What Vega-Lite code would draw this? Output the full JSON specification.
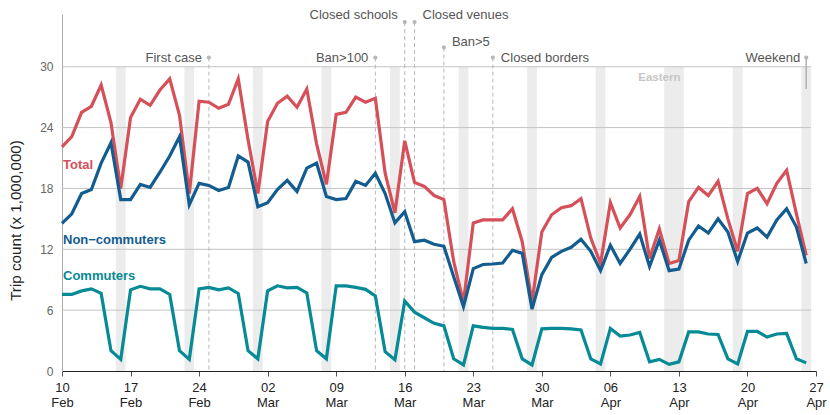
{
  "$schema": "https://vega.github.io/schema/vega-lite/v6.json",
  "autosize": "none",
  "width": 754,
  "height": 357,
  "padding": {"left": 62, "top": 14, "right": 14, "bottom": 44},
  "background": "white",
  "config": {"view": {"stroke": null}, "font": "Liberation Sans"},
  "datasets": {
    "trips": [
      {"date":"2020-02-10","total":22.1,"non":14.55,"com":7.55},
      {"date":"2020-02-11","total":23.1,"non":15.5,"com":7.55},
      {"date":"2020-02-12","total":25.5,"non":17.5,"com":7.9},
      {"date":"2020-02-13","total":26.1,"non":17.9,"com":8.1},
      {"date":"2020-02-14","total":28.2,"non":20.5,"com":7.65},
      {"date":"2020-02-15","total":24.5,"non":22.5,"com":2.0},
      {"date":"2020-02-16","total":18.0,"non":16.9,"com":1.15},
      {"date":"2020-02-17","total":25.0,"non":16.9,"com":8.0},
      {"date":"2020-02-18","total":26.8,"non":18.4,"com":8.35},
      {"date":"2020-02-19","total":26.2,"non":18.1,"com":8.1},
      {"date":"2020-02-20","total":27.7,"non":19.6,"com":8.1},
      {"date":"2020-02-21","total":28.8,"non":21.2,"com":7.55},
      {"date":"2020-02-22","total":25.2,"non":23.1,"com":2.0},
      {"date":"2020-02-23","total":17.5,"non":16.4,"com":1.15},
      {"date":"2020-02-24","total":26.6,"non":18.5,"com":8.1},
      {"date":"2020-02-25","total":26.5,"non":18.3,"com":8.25},
      {"date":"2020-02-26","total":25.9,"non":17.8,"com":8.0},
      {"date":"2020-02-27","total":26.3,"non":18.1,"com":8.2},
      {"date":"2020-02-28","total":28.8,"non":21.2,"com":7.65},
      {"date":"2020-02-29","total":22.8,"non":20.6,"com":2.0},
      {"date":"2020-03-01","total":17.5,"non":16.2,"com":1.2},
      {"date":"2020-03-02","total":24.6,"non":16.6,"com":7.9},
      {"date":"2020-03-03","total":26.4,"non":17.9,"com":8.4},
      {"date":"2020-03-04","total":27.1,"non":18.8,"com":8.2},
      {"date":"2020-03-05","total":26.0,"non":17.7,"com":8.25},
      {"date":"2020-03-06","total":27.8,"non":20.0,"com":7.7},
      {"date":"2020-03-07","total":22.4,"non":20.5,"com":2.0},
      {"date":"2020-03-08","total":18.4,"non":17.2,"com":1.2},
      {"date":"2020-03-09","total":25.3,"non":16.9,"com":8.4},
      {"date":"2020-03-10","total":25.5,"non":17.0,"com":8.4},
      {"date":"2020-03-11","total":27.0,"non":18.7,"com":8.25},
      {"date":"2020-03-12","total":26.5,"non":18.3,"com":8.05},
      {"date":"2020-03-13","total":26.9,"non":19.5,"com":7.4},
      {"date":"2020-03-14","total":19.5,"non":17.5,"com":1.9},
      {"date":"2020-03-15","total":15.6,"non":14.6,"com":1.1},
      {"date":"2020-03-16","total":22.7,"non":15.7,"com":6.9},
      {"date":"2020-03-17","total":18.6,"non":12.75,"com":5.8},
      {"date":"2020-03-18","total":18.2,"non":12.9,"com":5.25},
      {"date":"2020-03-19","total":17.3,"non":12.5,"com":4.7},
      {"date":"2020-03-20","total":16.9,"non":12.3,"com":4.45},
      {"date":"2020-03-21","total":10.8,"non":9.3,"com":1.2},
      {"date":"2020-03-22","total":6.8,"non":6.35,"com":0.6},
      {"date":"2020-03-23","total":14.6,"non":10.1,"com":4.45},
      {"date":"2020-03-24","total":14.9,"non":10.5,"com":4.3},
      {"date":"2020-03-25","total":14.9,"non":10.55,"com":4.2},
      {"date":"2020-03-26","total":14.9,"non":10.65,"com":4.2},
      {"date":"2020-03-27","total":16.0,"non":11.9,"com":4.1},
      {"date":"2020-03-28","total":12.75,"non":11.6,"com":1.2},
      {"date":"2020-03-29","total":6.8,"non":6.1,"com":0.6},
      {"date":"2020-03-30","total":13.7,"non":9.5,"com":4.15},
      {"date":"2020-03-31","total":15.4,"non":11.2,"com":4.2},
      {"date":"2020-04-01","total":16.1,"non":11.8,"com":4.2},
      {"date":"2020-04-02","total":16.3,"non":12.2,"com":4.15},
      {"date":"2020-04-03","total":17.0,"non":13.0,"com":4.05},
      {"date":"2020-04-04","total":13.1,"non":11.8,"com":1.2},
      {"date":"2020-04-05","total":10.6,"non":9.9,"com":0.7},
      {"date":"2020-04-06","total":16.6,"non":12.4,"com":4.2},
      {"date":"2020-04-07","total":14.1,"non":10.6,"com":3.45},
      {"date":"2020-04-08","total":15.4,"non":12.0,"com":3.55},
      {"date":"2020-04-09","total":17.2,"non":13.5,"com":3.8},
      {"date":"2020-04-10","total":11.1,"non":10.3,"com":0.9},
      {"date":"2020-04-11","total":14.0,"non":12.9,"com":1.15},
      {"date":"2020-04-12","total":10.6,"non":9.9,"com":0.65},
      {"date":"2020-04-13","total":10.9,"non":10.05,"com":0.9},
      {"date":"2020-04-14","total":16.7,"non":12.9,"com":3.85},
      {"date":"2020-04-15","total":18.1,"non":14.3,"com":3.85},
      {"date":"2020-04-16","total":17.3,"non":13.6,"com":3.65},
      {"date":"2020-04-17","total":18.7,"non":15.0,"com":3.6},
      {"date":"2020-04-18","total":15.0,"non":13.7,"com":1.2},
      {"date":"2020-04-19","total":11.8,"non":10.8,"com":0.7},
      {"date":"2020-04-20","total":17.5,"non":13.6,"com":3.9},
      {"date":"2020-04-21","total":18.0,"non":14.1,"com":3.9},
      {"date":"2020-04-22","total":16.5,"non":13.2,"com":3.35},
      {"date":"2020-04-23","total":18.5,"non":14.9,"com":3.65},
      {"date":"2020-04-24","total":19.8,"non":16.0,"com":3.7},
      {"date":"2020-04-25","total":15.5,"non":14.2,"com":1.2},
      {"date":"2020-04-26","total":11.4,"non":10.6,"com":0.8}
    ],
    "weekends": [
      {"start":"2020-02-15T12:00:00Z","end":"2020-02-16T12:00:00Z"},
      {"start":"2020-02-22T12:00:00Z","end":"2020-02-23T12:00:00Z"},
      {"start":"2020-02-29T12:00:00Z","end":"2020-03-01T12:00:00Z"},
      {"start":"2020-03-07T12:00:00Z","end":"2020-03-08T12:00:00Z"},
      {"start":"2020-03-14T12:00:00Z","end":"2020-03-15T12:00:00Z"},
      {"start":"2020-03-21T12:00:00Z","end":"2020-03-22T12:00:00Z"},
      {"start":"2020-03-28T12:00:00Z","end":"2020-03-29T12:00:00Z"},
      {"start":"2020-04-04T12:00:00Z","end":"2020-04-05T12:00:00Z"},
      {"start":"2020-04-11T12:00:00Z","end":"2020-04-13T12:00:00Z"},
      {"start":"2020-04-18T12:00:00Z","end":"2020-04-19T12:00:00Z"},
      {"start":"2020-04-25T12:00:00Z","end":"2020-04-26T12:00:00Z"}
    ],
    "events": [
      {"date":"2020-02-25","label":"First case","top":30.9,"labelAt":30.9,"side":"right"},
      {"date":"2020-03-13","label":"Ban>100","top":30.9,"labelAt":30.9,"side":"right"},
      {"date":"2020-03-16","label":"Closed schools","top":34.4,"labelAt":35.1,"side":"right"},
      {"date":"2020-03-17","label":"Closed venues","top":34.4,"labelAt":35.1,"side":"left"},
      {"date":"2020-03-20","label":"Ban>5","top":31.9,"labelAt":32.4,"side":"left"},
      {"date":"2020-03-25","label":"Closed borders","top":30.9,"labelAt":30.9,"side":"left"}
    ],
    "gridlines": [
      {"value":6,"start":"2020-02-10","end":"2020-04-26T12:00:00Z"},
      {"value":12,"start":"2020-02-10","end":"2020-04-26T12:00:00Z"},
      {"value":18,"start":"2020-02-10","end":"2020-04-26T12:00:00Z"},
      {"value":24,"start":"2020-02-10","end":"2020-04-26T12:00:00Z"},
      {"value":30,"start":"2020-02-10","end":"2020-04-26T12:00:00Z"}
    ],
    "labels": [
      {"date":"2020-02-10","value":20.35,"label":"Total"},
      {"date":"2020-02-10","value":12.9,"label":"Non−commuters"},
      {"date":"2020-02-10","value":9.4,"label":"Commuters"}
    ]
  },
  "encoding": {
    "x": {
      "field": "date",
      "type": "temporal",
      "title": null,
      "scale": {
        "type": "utc",
        "domain": [
          {"year":2020,"month":"feb","date":10,"utc":true},
          {"year":2020,"month":"apr","date":27,"utc":true}
        ]
      },
      "axis": {
        "values": [
          {"year":2020,"month":"feb","date":10,"utc":true},
          {"year":2020,"month":"feb","date":17,"utc":true},
          {"year":2020,"month":"feb","date":24,"utc":true},
          {"year":2020,"month":"mar","date":2,"utc":true},
          {"year":2020,"month":"mar","date":9,"utc":true},
          {"year":2020,"month":"mar","date":16,"utc":true},
          {"year":2020,"month":"mar","date":23,"utc":true},
          {"year":2020,"month":"mar","date":30,"utc":true},
          {"year":2020,"month":"apr","date":6,"utc":true},
          {"year":2020,"month":"apr","date":13,"utc":true},
          {"year":2020,"month":"apr","date":20,"utc":true},
          {"year":2020,"month":"apr","date":27,"utc":true}
        ],
        "labelExpr": "[utcFormat(datum.value, '%d'), utcFormat(datum.value, '%b')]",
        "grid": false,
        "domainColor": "#222222",
        "domainWidth": 1.2,
        "tickColor": "#555555",
        "tickSize": 5,
        "labelColor": "#222222",
        "labelFontSize": 13,
        "labelLineHeight": 15,
        "labelAngle": 0,
        "labelAlign": "center",
        "labelPadding": 5,
        "labelOverlap": false,
        "labelFlush": false,
        "labelBound": false
      }
    },
    "y": {
      "type": "quantitative",
      "scale": {"domain": [0, 35.2], "nice": false},
      "title": "Trip count (x 1,000,000)",
      "axis": {
        "values": [0, 6, 12, 18, 24, 30],
        "grid": false,
        "ticks": false,
        "domainColor": "#aaaaaa",
        "labelColor": "#666666",
        "labelFontSize": 12,
        "labelPadding": 9,
        "titleFontSize": 15.2,
        "titleFontWeight": "normal",
        "titleColor": "#222222",
        "titlePadding": 16,
        "titleY": 206
      }
    }
  },
  "layer": [
    {
      "data": {"name": "weekends"},
      "mark": {"type": "rect", "color": "#ececec"},
      "encoding": {
        "x": {"field": "start", "type": "temporal"},
        "x2": {"field": "end"},
        "y": {"datum": 0},
        "y2": {"datum": 30}
      }
    },
    {
      "data": {"name": "gridlines"},
      "mark": {"type": "rule", "color": "#c4c4c4", "strokeWidth": 1},
      "encoding": {
        "x": {"field": "start", "type": "temporal"},
        "x2": {"field": "end"},
        "y": {"field": "value", "type": "quantitative"}
      }
    },
    {
      "data": {"name": "events"},
      "mark": {"type": "rule", "color": "#b8b8b8", "strokeWidth": 1, "strokeDash": [4, 3]},
      "encoding": {
        "y": {"field": "top", "type": "quantitative"},
        "y2": {"datum": 0}
      }
    },
    {
      "data": {"name": "events"},
      "mark": {"type": "point", "filled": true, "color": "#b8b8b8", "size": 18, "opacity": 1},
      "encoding": {"y": {"field": "top", "type": "quantitative"}}
    },
    {
      "data": {"name": "events"},
      "transform": [{"filter": "datum.side === 'right'"}],
      "mark": {"type": "text", "align": "right", "dx": -7, "font": "Liberation Sans", "fontSize": 13, "color": "#555555"},
      "encoding": {
        "y": {"field": "labelAt", "type": "quantitative"},
        "text": {"field": "label"}
      }
    },
    {
      "data": {"name": "events"},
      "transform": [{"filter": "datum.side === 'left'"}],
      "mark": {"type": "text", "align": "left", "dx": 8, "font": "Liberation Sans", "fontSize": 13, "color": "#555555"},
      "encoding": {
        "y": {"field": "labelAt", "type": "quantitative"},
        "text": {"field": "label"}
      }
    },
    {
      "data": {"values": [{"date":"2020-04-26","top":30.9,"bottom":27.8,"label":"Weekend"}]},
      "layer": [
        {
          "mark": {"type": "rule", "color": "#b0b0b0", "strokeWidth": 1.5},
          "encoding": {
            "y": {"field": "top", "type": "quantitative"},
            "y2": {"field": "bottom"}
          }
        },
        {
          "mark": {"type": "point", "filled": true, "color": "#b8b8b8", "size": 18, "opacity": 1},
          "encoding": {"y": {"field": "top", "type": "quantitative"}}
        },
        {
          "mark": {"type": "text", "align": "right", "dx": -6, "font": "Liberation Sans", "fontSize": 13, "color": "#555555"},
          "encoding": {
            "y": {"field": "top", "type": "quantitative"},
            "text": {"field": "label"}
          }
        }
      ]
    },
    {
      "data": {"values": [{"date":"2020-04-11","value":28.9,"label":"Eastern"}]},
      "mark": {"type": "text", "font": "Liberation Sans", "fontSize": 11.5, "fontWeight": "bold", "color": "#c6c6c6"},
      "encoding": {
        "y": {"field": "value", "type": "quantitative"},
        "text": {"field": "label"}
      }
    },
    {
      "data": {"name": "trips"},
      "mark": {"type": "line", "color": "#d6505a", "strokeWidth": 3.2, "strokeJoin": "miter"},
      "encoding": {"y": {"field": "total", "type": "quantitative"}}
    },
    {
      "data": {"name": "trips"},
      "mark": {"type": "line", "color": "#125c90", "strokeWidth": 3.2, "strokeJoin": "miter"},
      "encoding": {"y": {"field": "non", "type": "quantitative"}}
    },
    {
      "data": {"name": "trips"},
      "mark": {"type": "line", "color": "#058a96", "strokeWidth": 3.2, "strokeJoin": "miter"},
      "encoding": {"y": {"field": "com", "type": "quantitative"}}
    },
    {
      "data": {"name": "labels"},
      "mark": {"type": "text", "align": "left", "dx": 1, "font": "Liberation Sans", "fontSize": 13, "fontWeight": "bold"},
      "encoding": {
        "y": {"field": "value", "type": "quantitative"},
        "text": {"field": "label"},
        "color": {
          "field": "label",
          "type": "nominal",
          "scale": {"domain": ["Total", "Non−commuters", "Commuters"], "range": ["#d6505a", "#125c90", "#058a96"]},
          "legend": null
        }
      }
    }
  ]
}
